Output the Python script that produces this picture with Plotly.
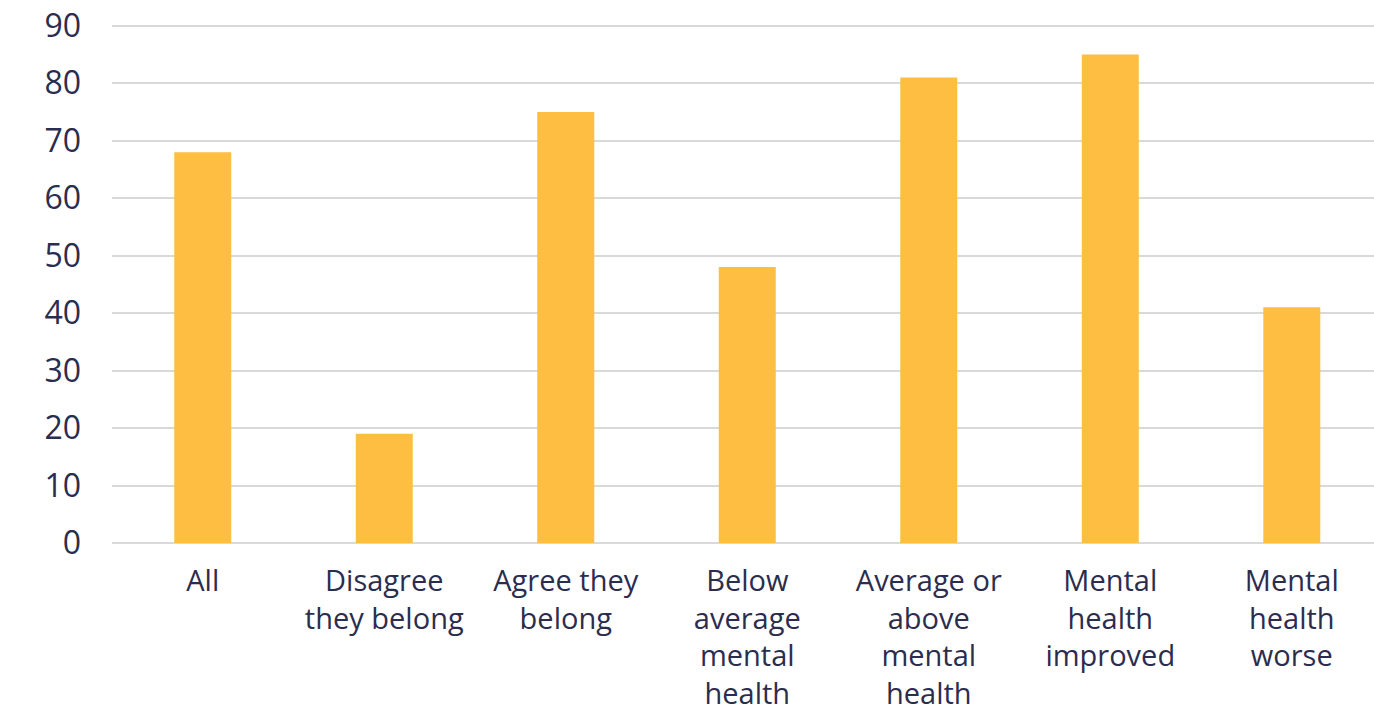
import plotly.graph_objects as go

categories = ["All", "Disagree<br>they belong", "Agree they<br>belong", "Below<br>average<br>mental<br>health",
              "Average or<br>above<br>mental<br>health", "Mental<br>health<br>improved", "Mental<br>health<br>worse"]
values = [68, 19, 75, 48, 81, 85, 41]
y_ticks = [0, 10, 20, 30, 40, 50, 60, 70, 80, 90]

text_color = "#2B2D4E"
font_family = "'Open Sans', Lato, sans-serif"

fig = go.Figure(go.Bar(
    x=list(range(len(categories))),
    y=values,
    marker=dict(color="#FDBE41", line=dict(width=0)),
    width=0.314,
))

fig.update_layout(
    width=1374, height=715,
    margin=dict(l=112, r=0, t=24, b=172),
    paper_bgcolor="white", plot_bgcolor="white",
    showlegend=False,
    font=dict(family=font_family, color=text_color, size=29),
    xaxis=dict(
        range=[-0.5, 6.453],
        tickmode="array",
        tickvals=list(range(len(categories))),
        ticktext=categories,
        showgrid=False, zeroline=False, showline=False,
        ticks="", ticklabelstandoff=18,
        tickfont=dict(size=29, color=text_color, family=font_family),
    ),
    yaxis=dict(
        range=[0, 90.3],
        tickmode="array",
        tickvals=y_ticks,
        ticktext=[str(v) for v in y_ticks],
        showgrid=True, gridcolor="#D9D9D9", gridwidth=2,
        zeroline=True, zerolinecolor="#D9D9D9", zerolinewidth=2,
        showline=False, ticks="",
        ticklabelstandoff=30,
        tickfont=dict(size=32, color=text_color, family=font_family),
    ),
)

fig.write_html("out.html", config={"displayModeBar": False},
               post_script="document.body.style.margin='0';document.body.style.overflow='hidden';")
